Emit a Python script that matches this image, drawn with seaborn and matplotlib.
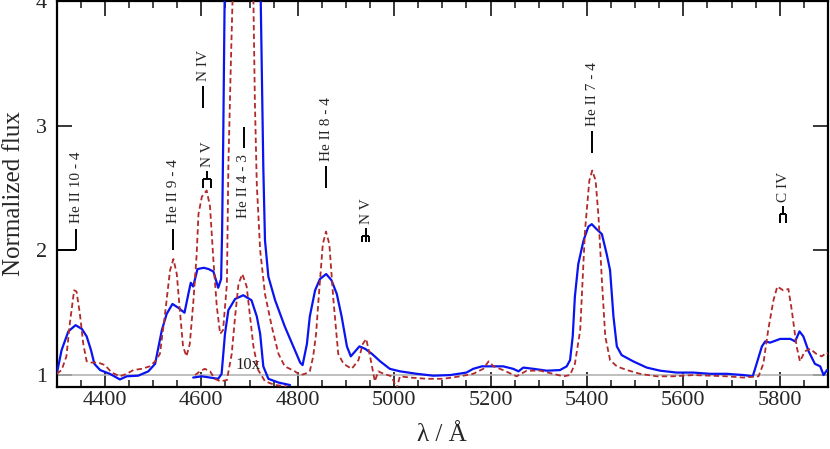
import matplotlib
matplotlib.use("Agg")
import matplotlib.pyplot as plt
import seaborn as sns
import numpy as np

# ---------------- data ----------------
blue_wave = [4300, 4310, 4324, 4339, 4352, 4362, 4371, 4378, 4390, 4410, 4431, 4445, 4469, 4490,
             4504, 4518, 4528, 4540, 4552, 4565, 4573, 4578, 4583, 4592, 4605, 4615, 4625, 4635,
             4641, 4643, 4645.5, 4649, 4656, 4670, 4687, 4704, 4715, 4722, 4728.5, 4732, 4739,
             4753, 4773, 4794, 4805, 4810, 4819, 4825, 4836, 4846, 4859, 4870, 4881, 4891, 4902,
             4910, 4919, 4928, 4940, 4954, 4971, 4991, 5012, 5047, 5081, 5116, 5150, 5164, 5182,
             5206, 5226, 5247, 5258, 5268, 5289, 5317, 5344, 5358, 5365, 5370.5, 5375, 5382, 5393,
             5403, 5410, 5420, 5431, 5441, 5448, 5455, 5462, 5472, 5496, 5524, 5552, 5586, 5621,
             5655, 5690, 5725, 5744, 5752, 5763, 5770, 5780, 5801, 5822, 5832, 5841, 5849, 5860,
             5873, 5884, 5891, 5898, 5900]
blue_flux = [1.01, 1.20, 1.35, 1.40, 1.37, 1.31, 1.20, 1.09, 1.04, 1.01, 0.965, 0.99, 0.995, 1.03,
             1.09, 1.36, 1.49, 1.57, 1.54, 1.50, 1.65, 1.74, 1.71, 1.85, 1.86, 1.85, 1.83, 1.70,
             1.77, 2.14, 2.94, 4.3, 6.2, 7.1, 7.4, 7.0, 5.7, 4.3, 2.67, 2.08, 1.79,
             1.60, 1.39, 1.20, 1.10, 1.08, 1.25, 1.47, 1.68, 1.77, 1.81, 1.76, 1.65, 1.47, 1.23,
             1.15, 1.19, 1.23, 1.21, 1.17, 1.11, 1.05, 1.03, 1.01, 0.995, 1.0, 1.02, 1.05, 1.07,
             1.07, 1.07, 1.05, 1.03, 1.06, 1.05, 1.035, 1.04, 1.07, 1.12, 1.31, 1.63, 1.89, 2.08,
             2.19, 2.21, 2.17, 2.13, 1.97, 1.84, 1.47, 1.23, 1.16, 1.11, 1.06, 1.035, 1.02, 1.02,
             1.01, 1.01, 1.0, 0.99, 1.09, 1.23, 1.27, 1.26, 1.29, 1.29, 1.27, 1.35, 1.31, 1.19,
             1.09, 1.07, 1.0, 1.04, 1.03]

dash_wave = [4300, 4310, 4320, 4327, 4336, 4341, 4348, 4355, 4362, 4372, 4386, 4400, 4414, 4431,
             4445, 4459, 4476, 4493, 4504, 4514, 4524, 4535, 4542, 4549, 4556, 4562, 4569, 4576,
             4583, 4590, 4594, 4601, 4611, 4618, 4625, 4632, 4639, 4645, 4653, 4656, 4661, 4666,
             4676, 4685, 4694, 4701, 4708, 4711, 4715, 4722, 4732, 4746, 4760, 4773, 4794, 4805,
             4815, 4825, 4832, 4838, 4843, 4852, 4858.6, 4865.5, 4874, 4884, 4895, 4912, 4926,
             4935, 4942, 4950, 4960, 4967, 4978, 4995, 5005, 5012, 5033, 5068, 5102, 5137, 5164,
             5185, 5196, 5206, 5226, 5254, 5275, 5303, 5330, 5351, 5365, 5375, 5386, 5396, 5405,
             5411, 5418, 5424, 5431, 5438, 5448, 5462, 5483, 5510, 5545, 5579, 5621, 5655, 5690,
             5725, 5756, 5766, 5776, 5787, 5795, 5807, 5818, 5825, 5835, 5842, 5852, 5863, 5876,
             5887, 5898, 5900]
dash_flux = [1.01, 1.04, 1.15, 1.41, 1.68, 1.67, 1.49, 1.25, 1.11, 1.10, 1.10, 1.08, 1.02, 0.99,
             1.01, 1.04, 1.05, 1.07, 1.11, 1.17, 1.47, 1.84, 1.93, 1.81, 1.49, 1.23, 1.15, 1.25,
             1.57, 1.95, 2.29, 2.43, 2.48, 2.35, 1.92, 1.55, 1.33, 1.36, 1.73, 2.67, 3.47, 4.2,
             8.3, 9.1, 8.1, 5.7, 4.0, 3.2, 2.53, 2.0, 1.65, 1.39, 1.17, 1.07, 1.03, 1.0,
             1.01, 1.03, 1.15, 1.33, 1.6, 2.05, 2.15, 2.05, 1.6, 1.17, 1.09, 1.05, 1.12,
             1.25, 1.29, 1.15, 0.95, 1.03, 1.01, 0.99, 0.89, 0.99, 0.98, 0.97, 0.97, 0.99, 1.01,
             1.05, 1.11, 1.07, 1.04, 0.99, 1.035, 1.035, 1.01, 0.99, 1.0, 1.09, 1.36, 2.16, 2.56,
             2.64, 2.56, 2.27, 1.76, 1.31, 1.12, 1.07, 1.04, 1.01, 0.99, 0.99, 1.0, 0.995, 0.99,
             0.98, 0.99, 1.09, 1.36, 1.6, 1.71, 1.68, 1.69, 1.52, 1.23, 1.11, 1.19, 1.21, 1.17,
             1.15, 1.18, 1.17]

# He II 4686 region scaled down by a factor of 10
blue10_wave = [4583, 4601, 4635, 4642, 4649, 4656, 4670, 4687, 4704, 4715, 4722, 4728.5, 4739, 4760, 4784]
blue10_flux = [0.98, 0.99, 0.97, 1.01, 1.33, 1.52, 1.61, 1.64, 1.60, 1.47, 1.33, 1.07, 0.97, 0.94, 0.92]
dash10_wave = [4587, 4597, 4607, 4618, 4628, 4639, 4653, 4663, 4670, 4677, 4685, 4694, 4701, 4708,
               4718, 4732, 4753, 4777]
dash10_flux = [1.0, 1.03, 1.05, 1.03, 0.97, 0.95, 0.96, 1.17, 1.47, 1.73, 1.81, 1.71, 1.47, 1.23,
               1.04, 0.95, 0.92, 0.91]

# line identifications: label, component wavelengths, base height
line_labels = ["He II 10 - 4", "He II 9 - 4", "N V", "N IV", "He II 4 - 3", "He II 8 - 4",
               "N V", "He II 7 - 4", "C IV"]
line_waves = [[4339], [4542], [4604, 4620], [4604], [4687], [4859], [4934, 4941, 4948],
              [5411], [5801, 5812]]
line_base = [2.0, 2.0, 2.50, 3.14, 2.82, 2.50, 2.07, 2.78, 2.22]

xticks = [4400, 4600, 4800, 5000, 5200, 5400, 5600, 5800]
yticks = [1, 2, 3, 4]

# ---------------- plot ----------------
sns.set_style("ticks")
plt.rcParams['font.family'] = ['Liberation Serif', 'DejaVu Serif']
plt.rcParams['mathtext.fontset'] = 'stix'

fig = plt.figure(figsize=(8.30, 4.49), dpi=100)
ax = fig.add_axes([0.0684, 0.138, 0.9291, 0.860])

BLUE = "#0a14f0"
RED = "#b22a2a"

ax.axhline(1.0, color="#b4b4b4", lw=1.2, zorder=1)

sns.lineplot(x=blue_wave, y=blue_flux, ax=ax, color=BLUE, lw=1.6, sort=False,
             estimator=None, zorder=3)
sns.lineplot(x=dash_wave, y=dash_flux, ax=ax, color=RED, lw=1.3, sort=False,
             estimator=None, linestyle=(0, (3, 1.8)), zorder=4)
sns.lineplot(x=blue10_wave, y=blue10_flux, ax=ax, color=BLUE, lw=1.6, sort=False,
             estimator=None, zorder=3)
sns.lineplot(x=dash10_wave, y=dash10_flux, ax=ax, color=RED, lw=1.3, sort=False,
             estimator=None, linestyle=(0, (3, 1.8)), zorder=4)

ax.text(4671, 1.015, "10x", fontsize=12, color="#222222", ha="left", va="bottom", zorder=5)

# line identification marks
lab_fs = 11
for lab, waves, base in zip(line_labels, line_waves, line_base):
    kw = dict(color="black", lw=1.4, zorder=6, solid_capstyle="butt")
    if len(waves) == 1:
        w = waves[0]
        if lab == "He II 4 - 3":
            ax.plot([w + 2, w + 2], [base, base + 0.17], **kw)
            ax.text(w, base - 0.045, lab, rotation=90, ha="center", va="top",
                    fontsize=lab_fs, zorder=6)
            continue
        top = base + 0.175
        ax.plot([w, w], [base, top], **kw)
        if lab == "He II 10 - 4":
            ax.plot([4303, w], [base, base], **kw)
        ax.text(w + 1, top + 0.045, lab, rotation=90, ha="center", va="bottom",
                fontsize=lab_fs, zorder=6)
    else:
        wc = 0.5 * (waves[0] + waves[-1])
        leg = 0.07 if len(waves) == 2 else 0.045
        bar = base + leg
        top = bar + 0.065
        for w in waves:
            ax.plot([w, w], [base, bar], **kw)
        ax.plot([waves[0], waves[-1]], [bar, bar], **kw)
        ax.plot([wc, wc], [bar, top], **kw)
        ax.text(wc + 1, top + 0.03, lab, rotation=90, ha="center", va="bottom",
                fontsize=lab_fs, zorder=6)

ax.set_xlim(4300, 5900)
ax.set_ylim(0.904, 4.0)
ax.set_xticks(xticks)
ax.set_xticks(np.arange(4300, 5901, 50), minor=True)
ax.set_yticks(yticks)
ax.tick_params(axis="both", which="major", direction="in", length=11, width=1.3,
               labelsize=16, top=True, right=True, pad=7)
ax.tick_params(axis="x", which="major", pad=3)
ax.tick_params(axis="x", which="minor", direction="in", length=5, width=1.2, top=True)
ax.tick_params(axis="y", which="minor", left=False, right=False)
for sp in ax.spines.values():
    sp.set_linewidth(1.6)
    sp.set_color("black")

ax.set_xlabel("λ / Å", fontsize=18, labelpad=10)
ax.set_ylabel("Normalized flux", fontsize=18, labelpad=8)

fig.savefig("out.png", dpi=100)
